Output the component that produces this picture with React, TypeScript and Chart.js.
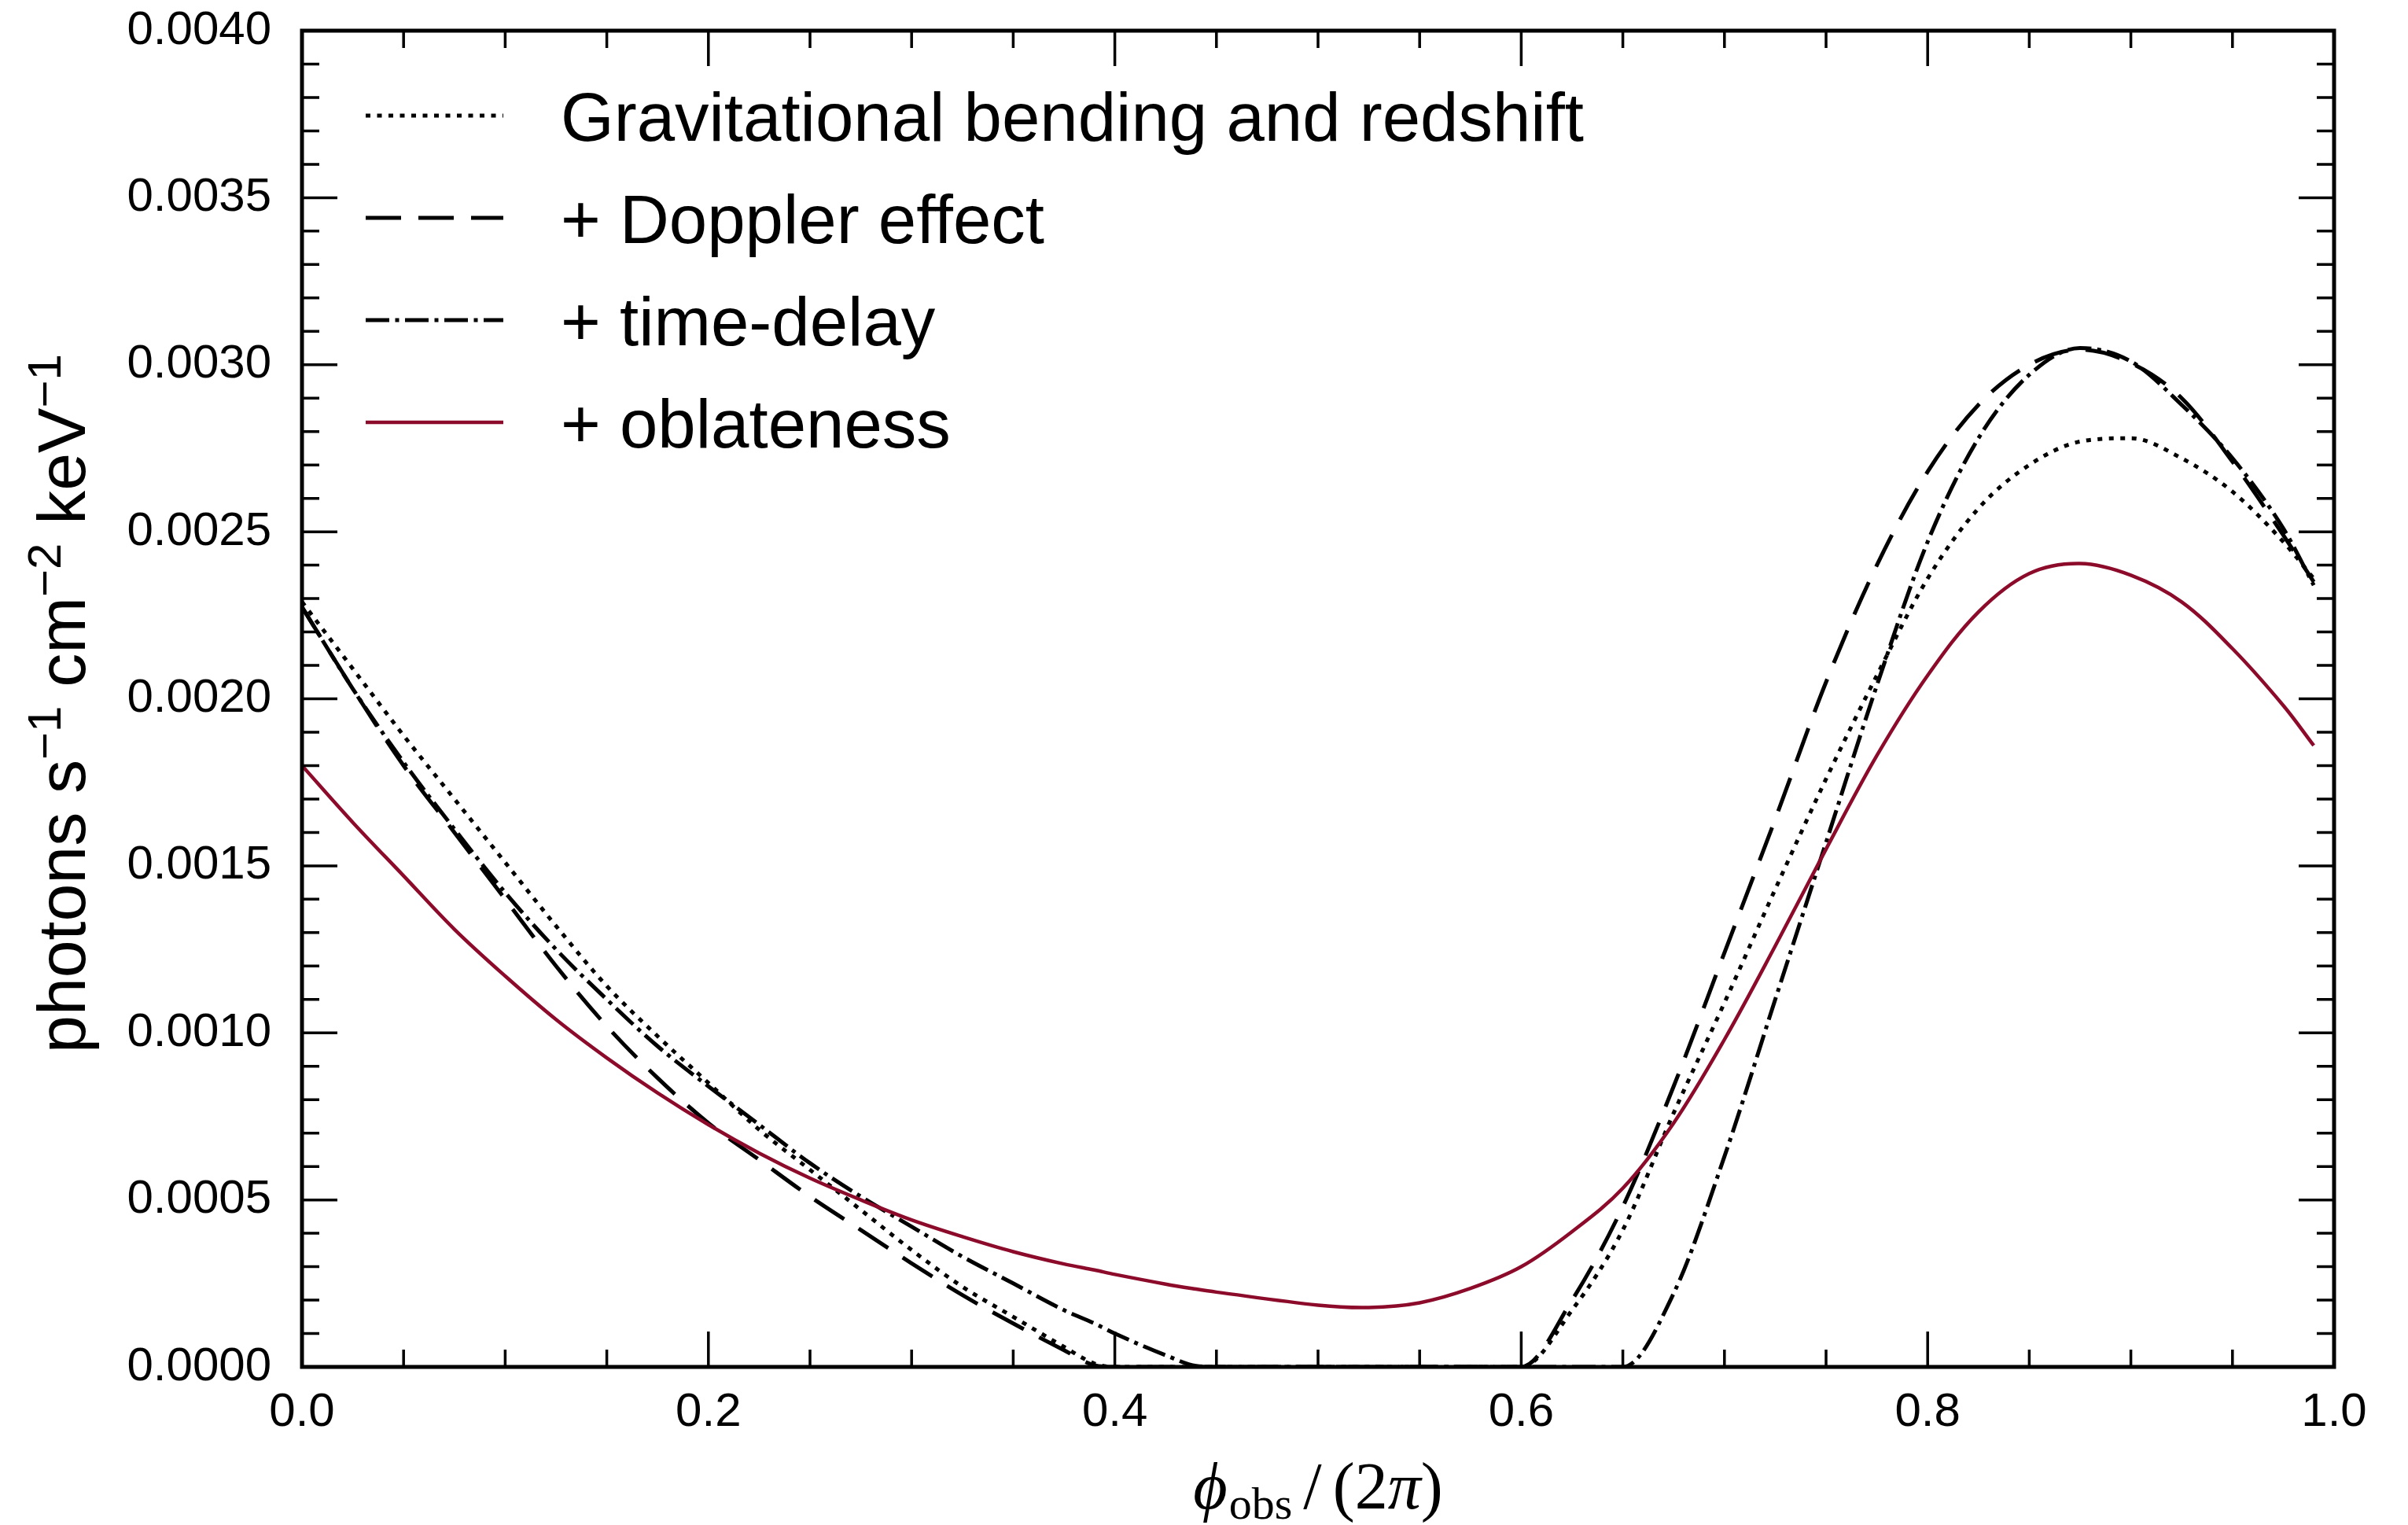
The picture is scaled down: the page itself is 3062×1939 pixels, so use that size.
import React, { useEffect, useRef } from "react";
import { Chart, registerables } from "chart.js";

Chart.register(...registerables);

// ---------------- data ----------------
const phase = [
  0, 0.025, 0.05, 0.075, 0.1, 0.125, 0.15, 0.175, 0.2, 0.225, 0.25, 0.275, 0.3,
  0.325, 0.35, 0.375, 0.39, 0.4, 0.425, 0.44, 0.45, 0.5, 0.525, 0.55, 0.575,
  0.6, 0.625, 0.65, 0.675, 0.7, 0.725, 0.75, 0.775, 0.8, 0.825, 0.85, 0.875,
  0.9, 0.925, 0.95, 0.975, 0.99,
];

const gravBending = [
  0.00229, 0.00209, 0.00189, 0.0017, 0.00151, 0.00132, 0.00114, 0.00099,
  0.00085, 0.00071, 0.00059, 0.00047, 0.00035, 0.00024, 0.00015, 0.00006,
  0.00001, 0, 0, 0, 0, 0, 0, 0, 0, 0, 0.00017, 0.00041, 0.00076, 0.00109,
  0.00143, 0.00176, 0.00207, 0.00236, 0.00257, 0.0027, 0.00277, 0.00278,
  0.00272, 0.00262, 0.00247, 0.00236,
];

const dopplerEffect = [
  0.002275, 0.00203, 0.0018, 0.0016, 0.0014, 0.0012, 0.00102, 0.000865,
  0.00073, 0.00062, 0.00051, 0.00041, 0.00031, 0.000215, 0.00013, 0.00005,
  0.000005, 0, 0, 0, 0, 0, 0, 0, 0, 0, 0.0002, 0.00048, 0.00084, 0.00124,
  0.00164, 0.00205, 0.0024, 0.00268, 0.00288, 0.003, 0.003045, 0.003005,
  0.0029, 0.00271, 0.00249, 0.00235,
];

const timeDelay = [
  0.002275, 0.00203, 0.00181, 0.00161, 0.00142, 0.00125, 0.0011, 0.00096,
  0.00084, 0.000725, 0.00061, 0.00051, 0.00042, 0.00033, 0.00025, 0.00017,
  0.00013, 0.0001, 0.000035, 0.000003, 0, 0, 0, 0, 0, 0, 0, 0, 0.00022,
  0.00063, 0.0011, 0.00157, 0.00204, 0.00247, 0.00278, 0.00297, 0.00305,
  0.00301, 0.00288, 0.00272, 0.00251, 0.00234,
];

const oblateness = [
  0.0018, 0.00163, 0.00147, 0.00131, 0.00117, 0.00104, 0.000925, 0.00082,
  0.000725, 0.00064, 0.000565, 0.0005, 0.00044, 0.00039, 0.000345, 0.000308,
  0.00029, 0.000277, 0.000248, 0.000233, 0.000224, 0.000185, 0.000178,
  0.000192, 0.000235, 0.0003, 0.000405, 0.000535, 0.00073, 0.00098, 0.00126,
  0.00155, 0.00183, 0.00207, 0.00226, 0.002375, 0.002405, 0.00237, 0.00229,
  0.00215, 0.00198, 0.00186,
];

const seriesNames = [
  "Gravitational bending and redshift",
  "+ Doppler effect",
  "+ time-delay",
  "+ oblateness",
];

const xTickValues = [0, 0.2, 0.4, 0.6, 0.8, 1.0];
const xTickLabels = ["0.0", "0.2", "0.4", "0.6", "0.8", "1.0"];
const yTickValues = [0, 0.0005, 0.001, 0.0015, 0.002, 0.0025, 0.003, 0.0035, 0.004];
const yTickLabels = [
  "0.0000", "0.0005", "0.0010", "0.0015", "0.0020", "0.0025", "0.0030", "0.0035", "0.0040",
];
const xMinorStep = 0.05;
const yMinorStep = 0.0001;

// ---------------- styling ----------------
const SANS = '"Liberation Sans", Arial, Helvetica, sans-serif';
const SERIF = '"Liberation Serif", "Times New Roman", "DejaVu Serif", serif';
const RED = "#8c0a2a";
const W = 3062;
const H = 1939;

const framePlugin = {
  id: "frameTicks",
  afterDatasetsDraw(chart: any) {
    const { ctx, chartArea, scales } = chart;
    const { left, right, top, bottom } = chartArea;
    const xs = scales.x;
    const ys = scales.y;
    ctx.save();
    ctx.setLineDash([]);
    ctx.strokeStyle = "#000";
    ctx.lineWidth = 3.5;
    ctx.beginPath();
    const nx = Math.round((xs.max - xs.min) / xMinorStep);
    for (let i = 0; i <= nx; i++) {
      const v = xs.min + i * xMinorStep;
      const px = xs.getPixelForValue(v);
      const major = xTickValues.some((t) => Math.abs(t - v) < 1e-9);
      const len = major ? 45 : 22;
      ctx.moveTo(px, bottom);
      ctx.lineTo(px, bottom - len);
      ctx.moveTo(px, top);
      ctx.lineTo(px, top + len);
    }
    const ny = Math.round((ys.max - ys.min) / yMinorStep);
    for (let i = 0; i <= ny; i++) {
      const v = ys.min + i * yMinorStep;
      const py = ys.getPixelForValue(v);
      const major = yTickValues.some((t) => Math.abs(t - v) < 1e-9);
      const len = major ? 45 : 22;
      ctx.moveTo(left, py);
      ctx.lineTo(left + len, py);
      ctx.moveTo(right, py);
      ctx.lineTo(right - len, py);
    }
    ctx.stroke();
    ctx.lineWidth = 5;
    ctx.strokeRect(left, top, right - left, bottom - top);
    ctx.restore();
  },
};

function drawPieces(
  ctx: CanvasRenderingContext2D,
  pieces: { t: string; font: string; dy: number; gap?: number }[],
  cx: number,
  baseY: number
) {
  let total = 0;
  const widths = pieces.map((p) => {
    ctx.font = p.font;
    const w = ctx.measureText(p.t).width + (p.gap || 0);
    total += w;
    return w;
  });
  let x = cx - total / 2;
  pieces.forEach((p, i) => {
    ctx.font = p.font;
    ctx.fillText(p.t, x, baseY + p.dy);
    x += widths[i];
  });
}

const textPlugin = {
  id: "textDecor",
  afterDraw(chart: any) {
    const { ctx, chartArea, data } = chart;
    const { left, right, top, bottom } = chartArea;
    ctx.save();
    ctx.fillStyle = "#000";
    ctx.textAlign = "left";
    ctx.textBaseline = "alphabetic";

    // legend
    data.datasets.forEach((ds: any, i: number) => {
      const yy = top + 108 + i * 130;
      ctx.save();
      ctx.strokeStyle = ds.borderColor;
      ctx.lineWidth = ds.borderWidth;
      ctx.lineCap = "butt";
      ctx.setLineDash(ds.borderDash || []);
      ctx.beginPath();
      ctx.moveTo(left + 81, yy);
      ctx.lineTo(left + 256, yy);
      ctx.stroke();
      ctx.restore();
      ctx.font = `87px ${SANS}`;
      ctx.fillText(ds.label, left + 329, yy + 32);
    });

    // x-axis title: phi_obs / (2 pi)
    const cx = (left + right) / 2;
    drawPieces(
      ctx,
      [
        { t: "\u03D5", font: `italic 84px ${SERIF}`, dy: 0, gap: 2 },
        { t: "obs", font: `58px ${SERIF}`, dy: 13, gap: 14 },
        { t: "/", font: `84px ${SERIF}`, dy: 0, gap: 14 },
        { t: "(2", font: `84px ${SERIF}`, dy: 0 },
        { t: "\u03C0", font: `italic 84px ${SERIF}`, dy: 0 },
        { t: ")", font: `84px ${SERIF}`, dy: 0 },
      ],
      cx,
      1918
    );

    // y-axis title
    ctx.save();
    ctx.translate(108, (top + bottom) / 2 + 6);
    ctx.rotate(-Math.PI / 2);
    const main = `86px ${SANS}`;
    const sup = `60px ${SANS}`;
    drawPieces(
      ctx,
      [
        { t: "photons s", font: main, dy: 0 },
        { t: "\u22121", font: sup, dy: -31 },
        { t: " cm", font: main, dy: 0 },
        { t: "\u22122", font: sup, dy: -31 },
        { t: " keV", font: main, dy: 0 },
        { t: "\u22121", font: sup, dy: -31 },
      ],
      0,
      0
    );
    ctx.restore();
    ctx.restore();
  },
};

export default function App() {
  const ref = useRef<HTMLCanvasElement | null>(null);

  useEffect(() => {
    if (!ref.current) return;
    const mk = (vals: number[]) => phase.map((p, i) => ({ x: p, y: vals[i] }));
    const common = {
      pointRadius: 0,
      pointHoverRadius: 0,
      fill: false,
      borderWidth: 5,
      cubicInterpolationMode: "monotone" as const,
      tension: 0.4,
      borderCapStyle: "butt" as const,
    };
    const chart = new Chart(ref.current, {
      type: "line",
      data: {
        datasets: [
          { ...common, label: seriesNames[0], data: mk(gravBending), borderColor: "#000", borderDash: [6, 8.5], order: 4 },
          { ...common, label: seriesNames[1], data: mk(dopplerEffect), borderColor: "#000", borderDash: [45, 22], order: 3 },
          { ...common, label: seriesNames[2], data: mk(timeDelay), borderColor: "#000", borderDash: [30, 7.5, 5, 7.5], order: 2 },
          {
            ...common,
            label: seriesNames[3],
            data: mk(oblateness),
            borderColor: RED,
            borderWidth: 4.5,
            borderDash: [],
            cubicInterpolationMode: "default" as const,
            tension: 0.35,
            order: 1,
          },
        ],
      },
      options: {
        animation: false,
        responsive: false,
        devicePixelRatio: 1,
        events: [],
        layout: { padding: { left: 0, top: 39, right: 94, bottom: 0 } },
        plugins: {
          legend: { display: false },
          tooltip: { enabled: false },
          title: { display: false },
        },
        scales: {
          x: {
            type: "linear",
            min: 0,
            max: 1,
            grid: { display: false, drawTicks: false },
            border: { display: false },
            afterBuildTicks: (scale: any) => {
              scale.ticks = xTickValues.map((v) => ({ value: v }));
            },
            afterFit: (scale: any) => {
              scale.height = 201;
              scale.paddingLeft = 0;
              scale.paddingRight = 0;
            },
            ticks: {
              autoSkip: false,
              maxRotation: 0,
              padding: 22,
              color: "#000",
              font: { family: SANS, size: 60 },
              callback: (_v: any, i: number) => xTickLabels[i],
            },
          },
          y: {
            type: "linear",
            min: 0,
            max: 0.004,
            grid: { display: false, drawTicks: false },
            border: { display: false },
            afterBuildTicks: (scale: any) => {
              scale.ticks = yTickValues.map((v) => ({ value: v }));
            },
            afterFit: (scale: any) => {
              scale.width = 384;
              scale.paddingTop = 0;
              scale.paddingBottom = 0;
            },
            ticks: {
              autoSkip: false,
              padding: 39,
              color: "#000",
              font: { family: SANS, size: 60 },
              callback: (_v: any, i: number) => yTickLabels[i],
            },
          },
        },
      },
      plugins: [framePlugin, textPlugin],
    });
    return () => chart.destroy();
  }, []);

  return (
    <div style={{ position: "absolute", left: 0, top: 0, width: W, height: H, background: "#fff" }}>
      <canvas ref={ref} width={W} height={H} style={{ width: W, height: H, display: "block" }} />
    </div>
  );
}
